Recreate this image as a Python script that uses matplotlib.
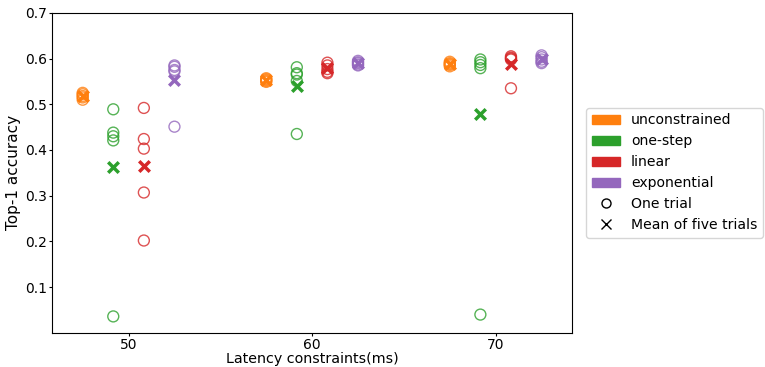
import numpy as np
import matplotlib
matplotlib.use("Agg")
import matplotlib.pyplot as plt
from matplotlib.patches import Patch
from matplotlib.lines import Line2D

# latency constraints (ms) and methods
constraints = [50, 60, 70]
methods = ["unconstrained", "one-step", "linear", "exponential"]
colors = ["tab:orange", "tab:green", "tab:red", "tab:purple"]

# top-1 accuracy of the five trials, per constraint
unconstrained = [[0.510, 0.515, 0.518, 0.522, 0.525],
                 [0.549, 0.551, 0.553, 0.555, 0.557],
                 [0.583, 0.586, 0.588, 0.590, 0.593]]
one_step = [[0.489, 0.438, 0.430, 0.421, 0.036],
            [0.581, 0.568, 0.565, 0.551, 0.435],
            [0.598, 0.592, 0.586, 0.579, 0.040]]
linear = [[0.492, 0.424, 0.403, 0.307, 0.202],
          [0.591, 0.585, 0.577, 0.571, 0.568],
          [0.605, 0.602, 0.600, 0.598, 0.535]]
exponential = [[0.585, 0.582, 0.575, 0.572, 0.451],
               [0.595, 0.592, 0.590, 0.587, 0.585],
               [0.607, 0.603, 0.598, 0.593, 0.590]]
trials = [unconstrained, one_step, linear, exponential]

offsets = np.array([-2.5, -5.0 / 6, 5.0 / 6, 2.5])

plt.rcParams["font.size"] = 10.3
fig = plt.figure(figsize=(7.65, 3.67), dpi=100)
ax = fig.add_axes([0.068, 0.093, 0.68, 0.872])

for m, (runs, c) in enumerate(zip(trials, colors)):
    for i, lat in enumerate(constraints):
        vals = np.asarray(runs[i])
        xs = np.full(len(vals), lat + offsets[m])
        ax.scatter(xs, vals, s=62, facecolors="none", edgecolors=c,
                   linewidths=1.0, alpha=0.8, zorder=2)
        ax.scatter([lat + offsets[m]], [vals.mean()], s=58, marker="x",
                   color=c, linewidths=2.5, zorder=3)

ax.set_xlim(45.83, 74.17)
ax.set_ylim(0.0, 0.7)
ax.set_xticks(constraints)
ax.set_yticks([0.1, 0.2, 0.3, 0.4, 0.5, 0.6, 0.7])
ax.tick_params(length=2, pad=1.5, labelsize=10)
ax.set_xlabel("Latency constraints(ms)", labelpad=0)
ax.set_ylabel("Top-1 accuracy", fontsize=11, labelpad=3)

handles = [Patch(color=c, label=n) for c, n in zip(colors, methods)]
handles.append(Line2D([], [], ls="", marker="o", mfc="none", mec="black",
                      markersize=6.5, label="One trial"))
handles.append(Line2D([], [], ls="", marker="x", color="black",
                      markersize=6.5, label="Mean of five trials"))
ax.legend(handles=handles, loc="center left", bbox_to_anchor=(1.013, 0.5),
          fontsize=10.1)

fig.savefig("out.png", dpi=100)
